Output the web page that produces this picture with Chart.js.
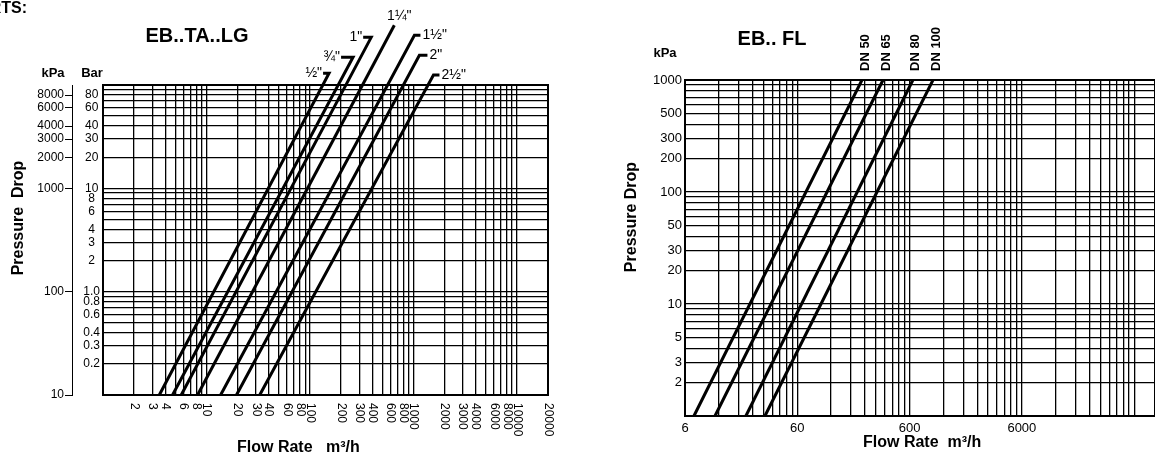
<!DOCTYPE html>
<html>
<head>
<meta charset="utf-8">
<title>Pressure drop charts</title>
<script src="https://cdn.jsdelivr.net/npm/chart.js@4.4.0/dist/chart.umd.min.js"></script>
<style>
  body { margin: 0; background: #fff; }
  #wrap { position: relative; width: 1155px; height: 455px; overflow: hidden; }
  canvas { position: absolute; top: 0; }
  #left { left: 0; }
  #right { left: 578px; }
</style>
</head>
<body>
<div id="wrap">
  <canvas id="left" width="578" height="455"></canvas>
  <canvas id="right" width="577" height="455"></canvas>
</div>
<script>
// EB..TA..LG - each curve starts at 0.1 bar and runs up past the top of the grid
var lgSizes = ['½"', '¾"', '1"', '1¼"', '1½"', '2"', '2½"'];
var lgFlowLow = [3.5, 4.7, 5.7, 8.2, 13.7, 19.5, 32.7];   // m3/h at 0.1 bar
var lgBarLow = 0.1;
var lgFlowHigh = [153, 261, 391, 654, 1023, 1143, 1563];  // where the curve stops
var lgBarHigh = [130, 186, 289, 378, 303, 194, 125];
var lgFlowTag = [134, 200, 327, null, 1170, 1367, 1787];  // end of the little label leader

var lgFlowTicks = [2, 3, 4, 6, 8, 10, 20, 30, 40, 60, 80, 100, 200, 300, 400, 600, 800,
                   1000, 2000, 3000, 4000, 6000, 8000, 10000, 20000];
var lgBarTicks = [80, 60, 40, 30, 20, 10, 8, 6, 4, 3, 2, 1, 0.8, 0.6, 0.4, 0.3, 0.2];
var lgKpaTicks = [8000, 6000, 4000, 3000, 2000, 1000, 100, 10];

// EB.. FL
var flSizes = ['DN 50', 'DN 65', 'DN 80', 'DN 100'];
var flFlowLow = [7.2, 11.1, 20.9, 30.9];   // at 1 kPa
var flFlowHigh = [226, 348, 642, 970];     // at 1000 kPa
var flKpaTicks = [1000, 500, 300, 200, 100, 50, 30, 20, 10, 5, 3, 2];
var flFlowTicks = [6, 60, 600, 6000];

var FONT = '"Liberation Sans", Arial, Helvetica, sans-serif';
Chart.defaults.font.family = FONT;
Chart.defaults.color = '#000';

// every 1..9 step of each decade (decades counted from "base")
function gridValues(min, max, base) {
    var out = [];
    for (var e = -3; e <= 6; e++) {
        for (var m = 1; m <= 9; m++) {
            var v = parseFloat((base * m * Math.pow(10, e)).toPrecision(6));
            if (v >= min * 0.999 && v <= max * 1.001) out.push(v);
        }
    }
    return out.sort(function (a, b) { return a - b; });
}
function setTicks(values) {
    return function (scale) {
        scale.ticks = values.map(function (v) { return { value: v }; });
    };
}
function has(list, v) {
    return list.some(function (t) { return Math.abs(t - v) < 1e-9 * Math.max(1, t); });
}
function frame(chart) {
    var a = chart.chartArea, ctx = chart.ctx;
    ctx.save();
    ctx.strokeStyle = '#000';
    ctx.lineWidth = 2;
    ctx.strokeRect(a.left, a.top, a.right - a.left, a.bottom - a.top);
    ctx.restore();
}
function text(ctx, str, x, y, font, align, rot) {
    ctx.save();
    ctx.font = font;
    ctx.fillStyle = '#000';
    ctx.textAlign = align || 'center';
    ctx.textBaseline = 'middle';
    ctx.translate(x, y);
    if (rot) ctx.rotate(rot);
    ctx.fillText(str, 0, 0);
    ctx.restore();
}

// ---------------- left chart ----------------
var lgData = lgSizes.map(function (s, i) {
    var pts = [{ x: lgFlowLow[i], y: lgBarLow }, { x: lgFlowHigh[i], y: lgBarHigh[i] }];
    if (lgFlowTag[i]) pts.push({ x: lgFlowTag[i], y: lgBarHigh[i] });
    return {
        label: s, data: pts, borderColor: '#000', borderWidth: 3,
        pointRadius: 0, tension: 0, clip: false, borderJoinStyle: 'miter'
    };
});

var leftDecor = {
    id: 'leftDecor',
    afterDraw: function (chart) {
        var ctx = chart.ctx, a = chart.chartArea;
        var xs = chart.scales.x;
        frame(chart);
        text(ctx, 'CHARTS:', 27, 9, 'bold 16px ' + FONT, 'right');
        text(ctx, 'EB..TA..LG', 197, 36, 'bold 20px ' + FONT);
        text(ctx, 'kPa', 53, 73, 'bold 13px ' + FONT);
        text(ctx, 'Bar', 92, 73, 'bold 13px ' + FONT);
        text(ctx, 'Pressure  Drop', 19, 218, 'bold 16px ' + FONT, 'center', -Math.PI / 2);
        text(ctx, 'Flow Rate   m³/h', 237, 448, 'bold 16px ' + FONT, 'left');
        lgFlowTicks.forEach(function (v) {
            text(ctx, String(v), xs.getPixelForValue(v), a.bottom + 8, '12px ' + FONT, 'left', Math.PI / 2);
        });
        chart.data.datasets.forEach(function (ds, i) {
            var pts = chart.getDatasetMeta(i).data;
            var end = pts[pts.length - 1];
            var f = '14px ' + FONT;
            if (!lgFlowTag[i]) {
                text(ctx, ds.label, end.x + 5, end.y - 9, f);
            } else if (lgFlowTag[i] < lgFlowHigh[i]) {
                text(ctx, ds.label, end.x - 1, end.y, f, 'right');
            } else {
                text(ctx, ds.label, end.x + 2, end.y, f, 'left');
            }
        });
    }
};

new Chart(document.getElementById('left'), {
    type: 'line',
    data: { datasets: lgData },
    options: {
        responsive: false,
        animation: false,
        events: [],
        layout: { autoPadding: false, padding: { top: 85, right: 30, bottom: 0, left: 0 } },
        plugins: { legend: { display: false }, tooltip: { enabled: false } },
        scales: {
            x: {
                type: 'logarithmic', position: 'bottom', min: 1, max: 20000,
                afterBuildTicks: setTicks(gridValues(1, 20000, 1)),
                afterFit: function (s) { s.height = 60; },
                ticks: { display: false, autoSkip: false },
                grid: { color: '#000', lineWidth: 1.3, drawTicks: false },
                border: { color: '#000', width: 2 }
            },
            y: {
                type: 'logarithmic', position: 'left', weight: 0, min: 0.1, max: 100,
                afterBuildTicks: setTicks(gridValues(0.1, 100, 1)),
                afterFit: function (s) { s.width = 31; },
                ticks: {
                    autoSkip: false, crossAlign: 'center', padding: 3,
                    font: { size: 12 },
                    callback: function (v) {
                        if (!has(lgBarTicks, v)) return '';
                        return v <= 1 ? v.toFixed(1) : String(v);
                    }
                },
                grid: { color: '#000', lineWidth: 1.3, drawTicks: false },
                border: { color: '#000', width: 2 }
            },
            kpa: {
                type: 'logarithmic', position: 'left', weight: 1, min: 10, max: 10000,
                afterBuildTicks: setTicks(lgKpaTicks.slice().reverse()),
                afterFit: function (s) { s.width = 72; },
                ticks: {
                    autoSkip: false, padding: 1, font: { size: 12 },
                    callback: function (v) { return String(v); }
                },
                grid: { drawOnChartArea: false, color: '#000', lineWidth: 1, tickLength: 7 },
                border: { color: '#000', width: 1 }
            }
        }
    },
    plugins: [leftDecor]
});

// ---------------- right chart ----------------
var flData = flSizes.map(function (s, i) {
    return {
        label: s, data: [{ x: flFlowLow[i], y: 1 }, { x: flFlowHigh[i], y: 1000 }],
        borderColor: '#000', borderWidth: 3, pointRadius: 0, tension: 0, clip: false
    };
});

var rightDecor = {
    id: 'rightDecor',
    afterDraw: function (chart) {
        var ctx = chart.ctx;
        frame(chart);
        text(ctx, 'EB.. FL', 194, 39, 'bold 20px ' + FONT);
        text(ctx, 'kPa', 87, 53, 'bold 13px ' + FONT);
        text(ctx, 'Pressure Drop', 54, 217, 'bold 16px ' + FONT, 'center', -Math.PI / 2);
        text(ctx, 'Flow Rate  m³/h', 285, 443, 'bold 16px ' + FONT, 'left');
        chart.data.datasets.forEach(function (ds, i) {
            var pts = chart.getDatasetMeta(i).data;
            var end = pts[pts.length - 1];
            text(ctx, ds.label, end.x + 3, end.y - 9, 'bold 13px ' + FONT, 'left', -Math.PI / 2);
        });
    }
};

new Chart(document.getElementById('right'), {
    type: 'line',
    data: { datasets: flData },
    options: {
        responsive: false,
        animation: false,
        events: [],
        layout: { autoPadding: false, padding: { top: 80, right: 0, bottom: 0, left: 0 } },
        plugins: { legend: { display: false }, tooltip: { enabled: false } },
        scales: {
            x: {
                type: 'logarithmic', position: 'bottom', min: 6, max: 92000,
                afterBuildTicks: setTicks(gridValues(6, 92000, 6)),
                afterFit: function (s) { s.height = 39; },
                ticks: {
                    autoSkip: false, maxRotation: 0, minRotation: 0, padding: 5,
                    font: { size: 13 },
                    callback: function (v) { return has(flFlowTicks, v) ? String(v) : ''; }
                },
                grid: { color: '#000', lineWidth: 1.3, drawTicks: false },
                border: { color: '#000', width: 2 }
            },
            y: {
                type: 'logarithmic', position: 'left', min: 1, max: 1000,
                afterBuildTicks: setTicks(gridValues(1, 1000, 1)),
                afterFit: function (s) { s.width = 107; },
                ticks: {
                    autoSkip: false, padding: 3, font: { size: 13 },
                    callback: function (v) { return has(flKpaTicks, v) ? String(v) : ''; }
                },
                grid: { color: '#000', lineWidth: 1.3, drawTicks: false },
                border: { color: '#000', width: 2 }
            }
        }
    },
    plugins: [rightDecor]
});
</script>
</body>
</html>
